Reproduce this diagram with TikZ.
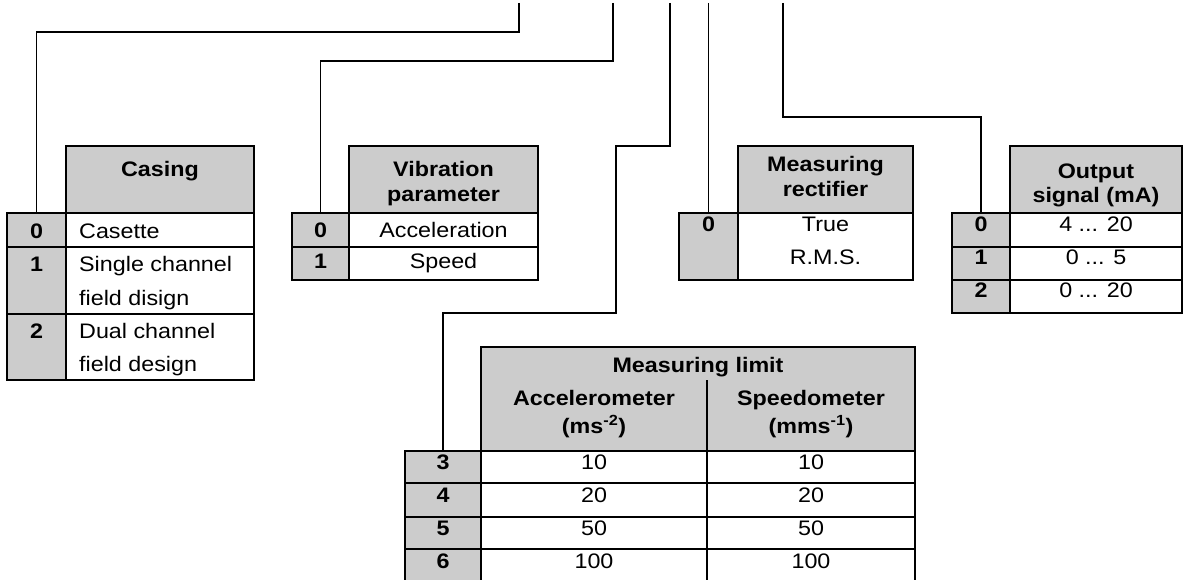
\documentclass[tikz,border=0pt]{standalone}
\usepackage{fontspec}
\setmainfont{Liberation Sans}[FakeStretch=1.11]
\definecolor{hgray}{RGB}{204,204,204}
\tikzset{
  cellw/.style={draw, line width=1.5pt, fill=white, inner sep=0pt, outer sep=0pt, anchor=north west},
  cellg/.style={cellw, fill=hgray},
  conn/.style={draw, line width=1.5pt},
  txt/.style={anchor=base, inner sep=0pt, font=\fontsize{21}{25}\selectfont},
  ltxt/.style={anchor=base west, inner sep=0pt, font=\fontsize{21}{25}\selectfont},
  btxt/.style={anchor=base, inner sep=0pt, font=\fontsize{21}{25}\selectfont\bfseries},
}
\newcommand\tcell[6]{\node[#6, minimum width={#4-#2}, minimum height={#5-#3}] (#1) at (#2,#3) {};}
\begin{document}
\begin{tikzpicture}[x=1pt,y=-1pt]
\useasboundingbox (0,0) rectangle (1186,580);
\clip (0,0) rectangle (1186,580);
% ---------- Casing ----------
\tcell{casH}{66}{146}{254}{213}{cellg}
\tcell{cas0}{7}{213}{66}{247}{cellg}
\tcell{cas0t}{66}{213}{254}{247}{cellw}
\tcell{cas1}{7}{247}{66}{314}{cellg}
\tcell{cas1t}{66}{247}{254}{314}{cellw}
\tcell{cas2}{7}{314}{66}{380}{cellg}
\tcell{cas2t}{66}{314}{254}{380}{cellw}
% ---------- Vibration parameter ----------
\tcell{vibH}{349}{146}{538}{213}{cellg}
\tcell{vib0}{292}{213}{349}{247}{cellg}
\tcell{vib0t}{349}{213}{538}{247}{cellw}
\tcell{vib1}{292}{247}{349}{280}{cellg}
\tcell{vib1t}{349}{247}{538}{280}{cellw}
% ---------- Measuring rectifier ----------
\tcell{recH}{738}{146}{913}{213}{cellg}
\tcell{rec0}{679}{213}{738}{280}{cellg}
\tcell{rec0t}{738}{213}{913}{280}{cellw}
% ---------- Output signal ----------
\tcell{outH}{1010}{146}{1182}{213}{cellg}
\tcell{out0}{952}{213}{1010}{247}{cellg}
\tcell{out0t}{1010}{213}{1182}{247}{cellw}
\tcell{out1}{952}{247}{1010}{280}{cellg}
\tcell{out1t}{1010}{247}{1182}{280}{cellw}
\tcell{out2}{952}{280}{1010}{313}{cellg}
\tcell{out2t}{1010}{280}{1182}{313}{cellw}
% ---------- Measuring limit ----------
\tcell{mlH}{481}{347}{915}{451}{cellg}
\draw[line width=1.5pt] (707,380) -- (707,451);
\tcell{ml3}{405}{451}{481}{483}{cellg}
\tcell{ml3a}{481}{451}{707}{483}{cellw}
\tcell{ml3b}{707}{451}{915}{483}{cellw}
\tcell{ml4}{405}{483}{481}{517}{cellg}
\tcell{ml4a}{481}{483}{707}{517}{cellw}
\tcell{ml4b}{707}{483}{915}{517}{cellw}
\tcell{ml5}{405}{517}{481}{549}{cellg}
\tcell{ml5a}{481}{517}{707}{549}{cellw}
\tcell{ml5b}{707}{517}{915}{549}{cellw}
\tcell{ml6}{405}{549}{481}{584}{cellg}
\tcell{ml6a}{481}{549}{707}{584}{cellw}
\tcell{ml6b}{707}{549}{915}{584}{cellw}
% ---------- connectors ----------
\coordinate (t1) at (519,3);
\coordinate (t2) at (613,3);
\coordinate (t3) at (670,3);
\coordinate (t4) at (708,3);
\coordinate (t5) at (783,3);
\draw[conn] (t1) -- ++(0,29) -| (cas0.north);
\draw[conn] (t2) -- ++(0,58) -| (vib0.north);
\draw[conn] (t3) -- ++(0,143) -| ++(-54,167) -| (ml3.north);
\draw[conn] (t4 -| rec0.north) -- (rec0.north);
\draw[conn] (t5) -- ++(0,114) -| (out0.north);
% ---------- texts: Casing ----------
\node[btxt] (casHt) at (160,177) {Casing};
\node[btxt] (cas0n) at (36.5,239) {0};
\node[btxt] (cas1n) at (36.5,272) {1};
\node[btxt] (cas2n) at (36.5,338) {2};
\node[ltxt] (cas0a) at (79,239) {Casette};
\node[ltxt] (cas1a) at (79,272) {Single channel};
\node[ltxt] (cas1b) at (79,305) {field disign};
\node[ltxt] (cas2a) at (79,338) {Dual channel};
\node[ltxt] (cas2b) at (79,371) {field design};
% ---------- Vibration ----------
\node[btxt] (vibHa) at (443.5,177) {Vibration};
\node[btxt] (vibHb) at (443.5,202) {parameter};
\node[btxt] (vib0n) at (320.5,238) {0};
\node[btxt] (vib1n) at (320.5,268) {1};
\node[txt] (vib0a) at (443.5,238) {Acceleration};
\node[txt] (vib1a) at (443.5,268) {Speed};
% ---------- Rectifier ----------
\node[btxt] (recHa) at (825.5,172) {Measuring};
\node[btxt] (recHb) at (825.5,197) {rectifier};
\node[btxt] (rec0n) at (708.5,231.5) {0};
\node[txt] (rec0a) at (825.5,231.5) {True};
\node[txt] (rec0b) at (825.5,264.5) {R.M.S.};
% ---------- Output ----------
\node[btxt] (outHa) at (1096,179) {Output};
\node[btxt] (outHb) at (1096,203) {signal (mA)};
\node[btxt] (out0n) at (981,231.5) {0};
\node[btxt] (out1n) at (981,264.5) {1};
\node[btxt] (out2n) at (981,297.5) {2};
\node[txt] (out0a) at (1096,231.5) {4 ... 20};
\node[txt] (out1a) at (1096,264.5) {0 ... 5};
\node[txt] (out2a) at (1096,297.5) {0 ... 20};
% ---------- Measuring limit ----------
\node[btxt] (mlHt) at (698,372) {Measuring limit};
\node[btxt] (mlHa) at (594,405) {Accelerometer};
\node[btxt] (mlHa2) at (594,433) {(ms\textsuperscript{-2})};
\node[btxt] (mlHb) at (811,405) {Speedometer};
\node[btxt] (mlHb2) at (811,433) {(mms\textsuperscript{-1})};
\node[btxt] (ml3n) at (443,469) {3};
\node[btxt] (ml4n) at (443,502) {4};
\node[btxt] (ml5n) at (443,535) {5};
\node[btxt] (ml6n) at (443,568) {6};
\node[txt] (ml3x) at (594,469) {10};
\node[txt] (ml3y) at (811,469) {10};
\node[txt] (ml4x) at (594,502) {20};
\node[txt] (ml4y) at (811,502) {20};
\node[txt] (ml5x) at (594,535) {50};
\node[txt] (ml5y) at (811,535) {50};
\node[txt] (ml6x) at (594,568) {100};
\node[txt] (ml6y) at (811,568) {100};
\end{tikzpicture}
\end{document}
